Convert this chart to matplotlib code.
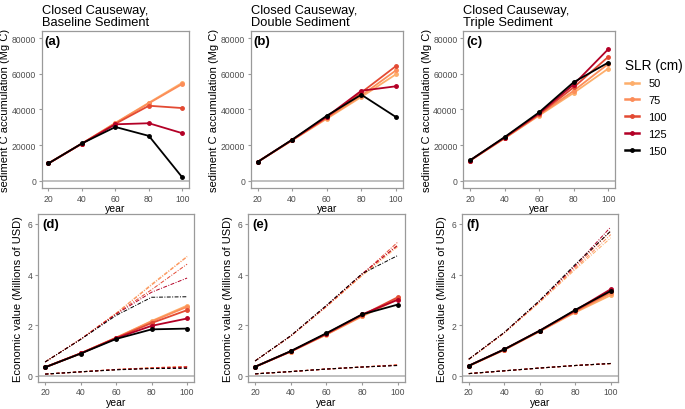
import matplotlib
matplotlib.use("Agg")
import matplotlib.pyplot as plt
from matplotlib.lines import Line2D

plt.rcParams["font.family"] = ["Liberation Sans", "DejaVu Sans"]

years = [20, 40, 60, 80, 100]
slr = ["50", "75", "100", "125", "150"]
colors = ["#FDAE6B", "#FC8D59", "#E34A33", "#B30026", "#000000"]

titles = ["Closed Causeway,\nBaseline Sediment",
          "Closed Causeway,\nDouble Sediment",
          "Closed Causeway,\nTriple Sediment"]

# sediment C accumulation (Mg C), one list per SLR scenario
carbon_base = [
    [9800, 20900, 32500, 43800, 55000],
    [9800, 20900, 32400, 43500, 54300],
    [9800, 20900, 32000, 42100, 40800],
    [9800, 20900, 31700, 32300, 26700],
    [9800, 21000, 30200, 25200, 1900],
]
carbon_double = [
    [10600, 22700, 34800, 47000, 59700],
    [10600, 22800, 35200, 47800, 61900],
    [10600, 22900, 35600, 49500, 64300],
    [10600, 23000, 36000, 50500, 53000],
    [10600, 23100, 36500, 48300, 35800],
]
carbon_triple = [
    [11300, 23800, 36600, 49300, 62900],
    [11300, 23900, 36900, 50500, 65500],
    [11400, 24100, 37300, 52400, 69500],
    [11400, 24300, 37800, 54000, 73800],
    [11500, 24500, 38400, 55300, 66300],
]

# economic value (millions of USD): mid, high and low estimates
value_base = [
    [0.33, 0.88, 1.50, 2.16, 2.77],
    [0.33, 0.88, 1.50, 2.14, 2.72],
    [0.33, 0.88, 1.49, 2.08, 2.59],
    [0.33, 0.88, 1.48, 1.97, 2.26],
    [0.33, 0.87, 1.45, 1.83, 1.86],
]
value_base_hi = [
    [0.54, 1.44, 2.47, 3.62, 4.72],
    [0.54, 1.44, 2.46, 3.58, 4.70],
    [0.54, 1.44, 2.45, 3.40, 4.41],
    [0.54, 1.44, 2.43, 3.30, 3.86],
    [0.54, 1.43, 2.38, 3.10, 3.12],
]
value_base_lo = [
    [0.06, 0.15, 0.24, 0.31, 0.36],
    [0.06, 0.15, 0.24, 0.31, 0.36],
    [0.06, 0.15, 0.24, 0.30, 0.35],
    [0.06, 0.15, 0.24, 0.29, 0.33],
    [0.06, 0.15, 0.23, 0.28, 0.29],
]
value_double = [
    [0.35, 0.95, 1.62, 2.34, 3.02],
    [0.35, 0.95, 1.63, 2.36, 3.06],
    [0.35, 0.96, 1.65, 2.39, 3.10],
    [0.35, 0.96, 1.66, 2.42, 3.00],
    [0.35, 0.97, 1.68, 2.42, 2.81],
]
value_double_hi = [
    [0.58, 1.56, 2.72, 3.95, 5.10],
    [0.58, 1.56, 2.73, 3.97, 5.18],
    [0.58, 1.57, 2.75, 4.00, 5.28],
    [0.58, 1.57, 2.76, 4.03, 5.15],
    [0.58, 1.58, 2.78, 4.03, 4.75],
]
value_double_lo = [
    [0.07, 0.16, 0.26, 0.34, 0.42],
    [0.07, 0.16, 0.26, 0.34, 0.42],
    [0.07, 0.16, 0.26, 0.34, 0.42],
    [0.07, 0.16, 0.26, 0.34, 0.41],
    [0.07, 0.16, 0.26, 0.34, 0.40],
]
value_triple = [
    [0.38, 1.02, 1.75, 2.50, 3.18],
    [0.38, 1.02, 1.76, 2.53, 3.26],
    [0.39, 1.03, 1.77, 2.56, 3.33],
    [0.39, 1.04, 1.78, 2.58, 3.42],
    [0.39, 1.04, 1.78, 2.60, 3.35],
]
value_triple_hi = [
    [0.63, 1.68, 2.90, 4.20, 5.45],
    [0.64, 1.69, 2.93, 4.25, 5.58],
    [0.65, 1.70, 2.95, 4.32, 5.72],
    [0.65, 1.70, 2.96, 4.36, 5.88],
    [0.65, 1.71, 2.98, 4.40, 5.72],
]
value_triple_lo = [
    [0.08, 0.19, 0.30, 0.40, 0.47],
    [0.08, 0.19, 0.30, 0.40, 0.48],
    [0.08, 0.19, 0.30, 0.40, 0.48],
    [0.08, 0.19, 0.30, 0.40, 0.48],
    [0.08, 0.19, 0.30, 0.40, 0.48],
]

fig = plt.figure(figsize=(6.85, 4.10), dpi=100)

top_pos = [[0.061, 0.539, 0.215, 0.383],
           [0.366, 0.539, 0.222, 0.383],
           [0.676, 0.539, 0.222, 0.383]]
bot_pos = [[0.0555, 0.066, 0.228, 0.410],
           [0.362, 0.066, 0.229, 0.410],
           [0.674, 0.066, 0.228, 0.410]]


def style(ax):
    for s in ax.spines.values():
        s.set_color("#9a9a9a")
        s.set_linewidth(0.9)
    ax.tick_params(colors="#9a9a9a", labelcolor="#4d4d4d", labelsize=6.2,
                   length=2.5, width=0.8, pad=1.5)
    ax.set_xlim(16, 104)
    ax.set_xticks(years)
    ax.set_xlabel("year", fontsize=7.5, labelpad=0.5)


carbon_sets = [carbon_base, carbon_double, carbon_triple]
for i in range(3):
    ax = fig.add_axes(top_pos[i])
    style(ax)
    ax.axhline(0, color="#b5b5b5", lw=1.2, zorder=1)
    for k in range(5):
        ax.plot(years, carbon_sets[i][k], color=colors[k], lw=1.3,
                marker="o", ms=2.5, zorder=2)
    ax.set_ylim(-4000, 84000)
    ax.set_yticks([0, 20000, 40000, 60000, 80000])
    ax.set_ylabel("sediment C accumulation (Mg C)", fontsize=8, labelpad=1)
    ax.set_title(titles[i], loc="left", fontsize=9.3, pad=4, linespacing=1.1)
    ax.text(0.02, 0.975, "(" + "abc"[i] + ")", transform=ax.transAxes,
            fontsize=9.5, fontweight="bold", va="top", ha="left")

value_sets = [(value_base, value_base_hi, value_base_lo),
              (value_double, value_double_hi, value_double_lo),
              (value_triple, value_triple_hi, value_triple_lo)]
for i in range(3):
    ax = fig.add_axes(bot_pos[i])
    style(ax)
    ax.axhline(0, color="#b5b5b5", lw=1.2, zorder=1)
    mid, hi, lo = value_sets[i]
    for k in range(5):
        ax.plot(years, hi[k], color=colors[k], lw=0.7,
                linestyle=(0, (4, 1.5, 1, 1.5)), zorder=2)
        ax.plot(years, lo[k], color=colors[k], lw=0.8,
                linestyle=(0, (3, 2)), zorder=2)
    for k in range(5):
        ax.plot(years, mid[k], color=colors[k], lw=1.3,
                marker="o", ms=2.5, zorder=3)
    ax.set_ylim(-0.25, 6.4)
    ax.set_yticks([0, 2, 4, 6])
    ax.set_ylabel("Economic value (Millions of USD)", fontsize=8, labelpad=3)
    ax.text(0.03, 0.975, "(" + "def"[i] + ")", transform=ax.transAxes,
            fontsize=9.5, fontweight="bold", va="top", ha="left")

handles = [Line2D([], [], color=c, lw=1.8, marker="o", ms=2.5) for c in colors]
leg = fig.legend(handles, slr, title="SLR (cm)", loc="upper left",
                 bbox_to_anchor=(0.906, 0.868), frameon=False, fontsize=8,
                 title_fontsize=9.8, handlelength=1.3, labelspacing=0.62,
                 handletextpad=0.8, borderaxespad=0)
leg._legend_box.align = "left"

fig.savefig("out.png", dpi=100)
